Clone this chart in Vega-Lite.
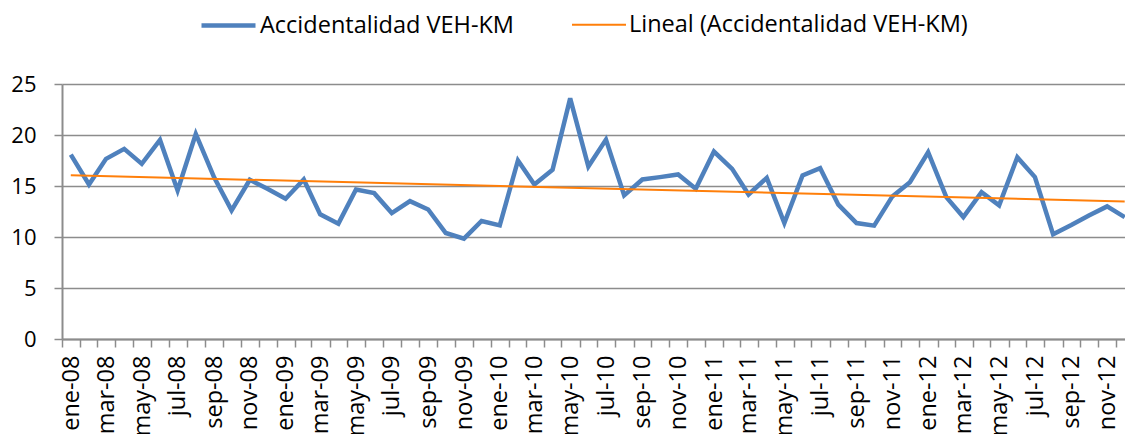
{
  "$schema": "https://vega.github.io/schema/vega-lite/v6.json",
  "width": 1063,
  "height": 255,
  "autosize": {"type": "none"},
  "padding": {"left": 62, "top": 84, "right": 0, "bottom": 95},
  "background": "white",
  "config": {"view": {"stroke": null}, "font": "Open Sans"},
  "data": {"values": [
    {"fecha": "2008-01-16", "valor": 18.08, "serie": "Accidentalidad VEH-KM"},
    {"fecha": "2008-02-16", "valor": 15.15, "serie": "Accidentalidad VEH-KM"},
    {"fecha": "2008-03-16", "valor": 17.66, "serie": "Accidentalidad VEH-KM"},
    {"fecha": "2008-04-16", "valor": 18.64, "serie": "Accidentalidad VEH-KM"},
    {"fecha": "2008-05-16", "valor": 17.17, "serie": "Accidentalidad VEH-KM"},
    {"fecha": "2008-06-16", "valor": 19.52, "serie": "Accidentalidad VEH-KM"},
    {"fecha": "2008-07-16", "valor": 14.56, "serie": "Accidentalidad VEH-KM"},
    {"fecha": "2008-08-16", "valor": 20.1, "serie": "Accidentalidad VEH-KM"},
    {"fecha": "2008-09-16", "valor": 15.87, "serie": "Accidentalidad VEH-KM"},
    {"fecha": "2008-10-16", "valor": 12.61, "serie": "Accidentalidad VEH-KM"},
    {"fecha": "2008-11-16", "valor": 15.61, "serie": "Accidentalidad VEH-KM"},
    {"fecha": "2008-12-16", "valor": 14.73, "serie": "Accidentalidad VEH-KM"},
    {"fecha": "2009-01-16", "valor": 13.75, "serie": "Accidentalidad VEH-KM"},
    {"fecha": "2009-02-16", "valor": 15.64, "serie": "Accidentalidad VEH-KM"},
    {"fecha": "2009-03-16", "valor": 12.22, "serie": "Accidentalidad VEH-KM"},
    {"fecha": "2009-04-16", "valor": 11.31, "serie": "Accidentalidad VEH-KM"},
    {"fecha": "2009-05-16", "valor": 14.66, "serie": "Accidentalidad VEH-KM"},
    {"fecha": "2009-06-16", "valor": 14.3, "serie": "Accidentalidad VEH-KM"},
    {"fecha": "2009-07-16", "valor": 12.35, "serie": "Accidentalidad VEH-KM"},
    {"fecha": "2009-08-16", "valor": 13.52, "serie": "Accidentalidad VEH-KM"},
    {"fecha": "2009-09-16", "valor": 12.7, "serie": "Accidentalidad VEH-KM"},
    {"fecha": "2009-10-16", "valor": 10.39, "serie": "Accidentalidad VEH-KM"},
    {"fecha": "2009-11-16", "valor": 9.84, "serie": "Accidentalidad VEH-KM"},
    {"fecha": "2009-12-16", "valor": 11.57, "serie": "Accidentalidad VEH-KM"},
    {"fecha": "2010-01-16", "valor": 11.14, "serie": "Accidentalidad VEH-KM"},
    {"fecha": "2010-02-16", "valor": 17.5, "serie": "Accidentalidad VEH-KM"},
    {"fecha": "2010-03-16", "valor": 15.15, "serie": "Accidentalidad VEH-KM"},
    {"fecha": "2010-04-16", "valor": 16.59, "serie": "Accidentalidad VEH-KM"},
    {"fecha": "2010-05-16", "valor": 23.59, "serie": "Accidentalidad VEH-KM"},
    {"fecha": "2010-06-16", "valor": 16.91, "serie": "Accidentalidad VEH-KM"},
    {"fecha": "2010-07-16", "valor": 19.55, "serie": "Accidentalidad VEH-KM"},
    {"fecha": "2010-08-16", "valor": 14.08, "serie": "Accidentalidad VEH-KM"},
    {"fecha": "2010-09-16", "valor": 15.64, "serie": "Accidentalidad VEH-KM"},
    {"fecha": "2010-10-16", "valor": 15.87, "serie": "Accidentalidad VEH-KM"},
    {"fecha": "2010-11-16", "valor": 16.13, "serie": "Accidentalidad VEH-KM"},
    {"fecha": "2010-12-16", "valor": 14.73, "serie": "Accidentalidad VEH-KM"},
    {"fecha": "2011-01-16", "valor": 18.38, "serie": "Accidentalidad VEH-KM"},
    {"fecha": "2011-02-16", "valor": 16.68, "serie": "Accidentalidad VEH-KM"},
    {"fecha": "2011-03-16", "valor": 14.17, "serie": "Accidentalidad VEH-KM"},
    {"fecha": "2011-04-16", "valor": 15.8, "serie": "Accidentalidad VEH-KM"},
    {"fecha": "2011-05-16", "valor": 11.37, "serie": "Accidentalidad VEH-KM"},
    {"fecha": "2011-06-16", "valor": 16.03, "serie": "Accidentalidad VEH-KM"},
    {"fecha": "2011-07-16", "valor": 16.75, "serie": "Accidentalidad VEH-KM"},
    {"fecha": "2011-08-16", "valor": 13.17, "serie": "Accidentalidad VEH-KM"},
    {"fecha": "2011-09-16", "valor": 11.37, "serie": "Accidentalidad VEH-KM"},
    {"fecha": "2011-10-16", "valor": 11.11, "serie": "Accidentalidad VEH-KM"},
    {"fecha": "2011-11-16", "valor": 13.98, "serie": "Accidentalidad VEH-KM"},
    {"fecha": "2011-12-16", "valor": 15.38, "serie": "Accidentalidad VEH-KM"},
    {"fecha": "2012-01-16", "valor": 18.31, "serie": "Accidentalidad VEH-KM"},
    {"fecha": "2012-02-16", "valor": 13.91, "serie": "Accidentalidad VEH-KM"},
    {"fecha": "2012-03-16", "valor": 11.96, "serie": "Accidentalidad VEH-KM"},
    {"fecha": "2012-04-16", "valor": 14.4, "serie": "Accidentalidad VEH-KM"},
    {"fecha": "2012-05-16", "valor": 13.1, "serie": "Accidentalidad VEH-KM"},
    {"fecha": "2012-06-16", "valor": 17.82, "serie": "Accidentalidad VEH-KM"},
    {"fecha": "2012-07-16", "valor": 15.87, "serie": "Accidentalidad VEH-KM"},
    {"fecha": "2012-08-16", "valor": 10.26, "serie": "Accidentalidad VEH-KM"},
    {"fecha": "2012-09-16", "valor": 11.17, "serie": "Accidentalidad VEH-KM"},
    {"fecha": "2012-10-16", "valor": 12.1, "serie": "Accidentalidad VEH-KM"},
    {"fecha": "2012-11-16", "valor": 13.0, "serie": "Accidentalidad VEH-KM"},
    {"fecha": "2012-12-16", "valor": 11.95, "serie": "Accidentalidad VEH-KM"},
    {"fecha": "2008-01-16", "valor": 16.05, "serie": "Lineal (Accidentalidad VEH-KM)"},
    {"fecha": "2012-12-16", "valor": 13.48, "serie": "Lineal (Accidentalidad VEH-KM)"}
  ]},
  "mark": {"type": "line", "clip": true, "strokeJoin": "miter"},
  "encoding": {
    "x": {
      "field": "fecha",
      "type": "temporal",
      "scale": {
        "type": "utc",
        "domain": [
          {"year": 2008, "month": 1, "date": 1, "utc": true},
          {"year": 2012, "month": 12, "date": 16, "hours": 12, "utc": true}
        ]
      },
      "axis": {
        "title": null,
        "grid": false,
        "tickCount": {"interval": "month", "step": 1},
        "labelExpr": "utcmonth(datum.value) % 2 == 0 ? ['ene','feb','mar','abr','may','jun','jul','ago','sep','oct','nov','dic'][utcmonth(datum.value)] + '-' + utcFormat(datum.value, '%y') : ''",
        "labelAngle": -90,
        "labelOffset": 9,
        "labelOverlap": false,
        "labelBound": false,
        "labelFlush": false,
        "tickSize": 8,
        "labelPadding": 8,
        "labelFontSize": 23.5,
        "labelColor": "#000000",
        "domainColor": "#8c8c8c",
        "domainWidth": 2,
        "tickColor": "#8c8c8c",
        "tickWidth": 1.5
      }
    },
    "y": {
      "field": "valor",
      "type": "quantitative",
      "scale": {"domain": [0, 25]},
      "axis": {
        "title": null,
        "values": [0, 5, 10, 15, 20, 25],
        "grid": true,
        "gridColor": "#8c8c8c",
        "gridWidth": 1.5,
        "domainColor": "#8c8c8c",
        "domainWidth": 2,
        "tickColor": "#8c8c8c",
        "tickWidth": 1.5,
        "tickSize": 8,
        "labelPadding": 18,
        "labelFontSize": 22,
        "labelColor": "#000000"
      }
    },
    "color": {
      "field": "serie",
      "type": "nominal",
      "scale": {
        "domain": ["Accidentalidad VEH-KM", "Lineal (Accidentalidad VEH-KM)"],
        "range": ["#4F81BD", "#FF7F0A"]
      },
      "legend": {
        "title": null,
        "orient": "none",
        "legendX": 137,
        "legendY": -88,
        "direction": "horizontal",
        "symbolType": "stroke",
        "symbolSize": 2916,
        "symbolStrokeWidth": 3.5,
        "labelFontSize": 23.5,
        "labelColor": "#000000",
        "labelOffset": 2,
        "labelLimit": 0,
        "columnPadding": 54,
        "padding": 0
      }
    },
    "strokeWidth": {
      "field": "serie",
      "type": "nominal",
      "scale": {
        "domain": ["Accidentalidad VEH-KM", "Lineal (Accidentalidad VEH-KM)"],
        "range": [4.5, 2]
      },
      "legend": null
    }
  }
}
